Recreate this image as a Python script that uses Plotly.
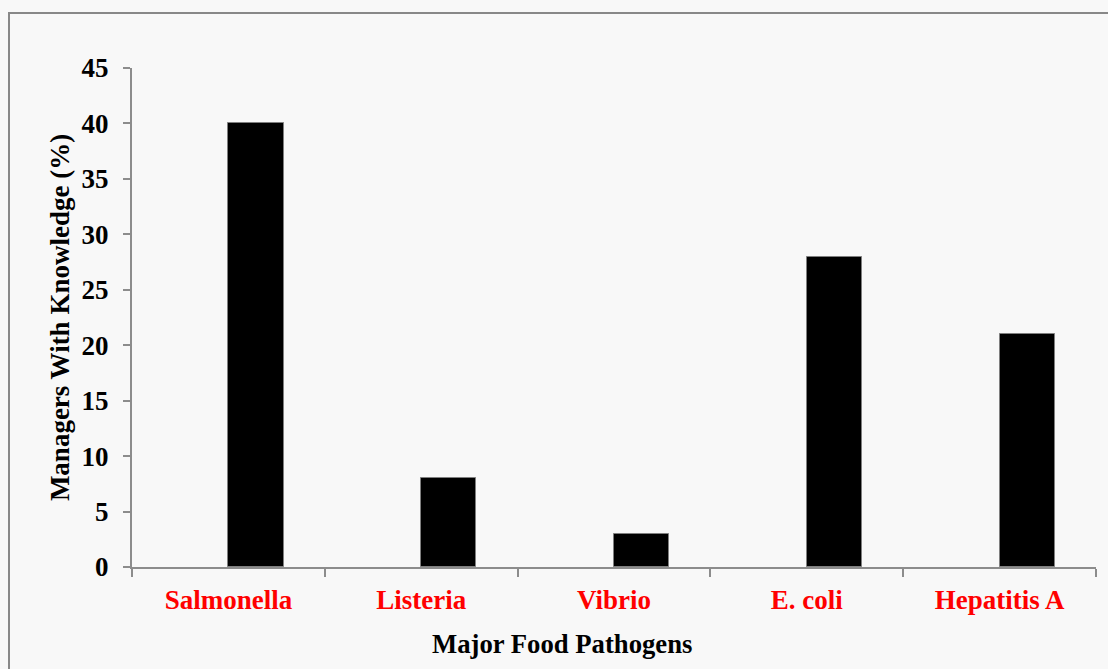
import plotly.graph_objects as go

# Share of managers aware of each pathogen
pathogens = ["Salmonella", "Listeria", "Vibrio", "E. coli", "Hepatitis A"]
knowledge_pct = [40, 8, 3, 28, 21]
y_ticks = [0, 5, 10, 15, 20, 25, 30, 35, 40, 45]

W, H = 1108, 669
L, R, T, B = 132, 12, 68, 102
pw, ph = W - L - R, H - T - B

bg = "#f8f8f8"
axis_gray = "#8c8c8c"
serif = "Liberation Serif, Times New Roman, serif"

fig = go.Figure()
fig.add_trace(go.Bar(
    x=pathogens,
    y=knowledge_pct,
    offset=0,
    width=0.286,
    marker=dict(color="black", line=dict(color="#7f7f7f", width=1)),
    showlegend=False,
))

# outer chart border (extends past the right and bottom edges)
fig.add_shape(
    type="rect", xref="paper", yref="paper",
    x0=(9 - L) / pw, x1=1.2,
    y0=-0.5, y1=1 + (T - 13) / ph,
    line=dict(color="#888888", width=2), fillcolor="rgba(0,0,0,0)",
    layer="below",
)

# x-axis title, centred on the chart area rather than the plot area
fig.add_annotation(
    text="<b>Major Food Pathogens</b>",
    xref="paper", yref="paper",
    x=(562 - L) / pw, y=-(644 - T - ph) / ph,
    xanchor="center", yanchor="middle",
    showarrow=False,
    font=dict(family=serif, size=26.7, color="black"),
)

fig.update_layout(
    width=W, height=H,
    margin=dict(l=L, r=R, t=T, b=B, pad=0),
    paper_bgcolor=bg, plot_bgcolor=bg,
    font=dict(family=serif, size=27, color="black"),
    bargap=0,
    xaxis=dict(
        type="category",
        range=[-0.5, 4.5],
        tickson="boundaries",
        ticks="outside", ticklen=8, tickwidth=2, tickcolor=axis_gray,
        showline=True, linecolor=axis_gray, linewidth=2,
        showgrid=False, zeroline=False,
        ticklabelstandoff=8,
        tickfont=dict(family=serif, size=27, color="red", weight="bold"),
        automargin=False,
    ),
    yaxis=dict(
        range=[0, 45],
        tickvals=y_ticks,
        ticks="outside", ticklen=7, tickwidth=2, tickcolor=axis_gray,
        showline=True, linecolor=axis_gray, linewidth=2,
        showgrid=False, zeroline=False,
        ticklabelstandoff=9,
        tickfont=dict(family=serif, size=27, color="black", weight="bold"),
        title=dict(text="<b>Managers With Knowledge (%)</b>", font=dict(size=27), standoff=4),
        automargin=False,
    ),
)

fig.write_html("out.html")
